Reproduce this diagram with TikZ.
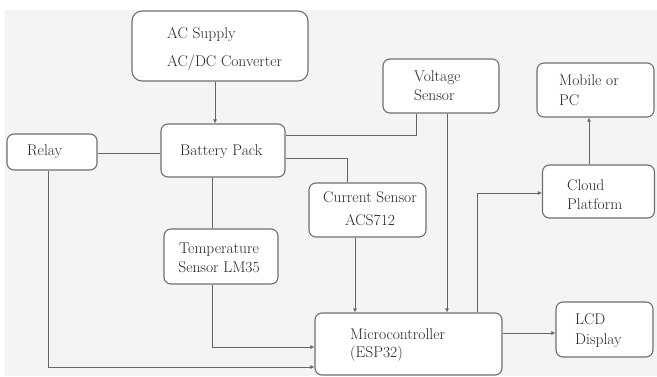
\documentclass[tikz,border=0pt]{standalone}
\usetikzlibrary{arrows.meta}
\definecolor{bgc}{HTML}{F4F4F4}
\definecolor{edge}{HTML}{707070}
\definecolor{wire}{HTML}{666666}
\definecolor{txt}{HTML}{262626}
\tikzset{
  box/.style={draw=edge, line width=1.1pt, fill=white, rounded corners=7pt, inner sep=0pt, minimum width=#1},
  lbl/.style={inner sep=0pt, align=left, anchor=west, text=txt},
  wr/.style={draw=wire, line width=0.9pt},
  arr/.style={wr, -{Latex[length=4pt,width=4pt]}},
}
\newcommand{\fs}[1]{\fontsize{15.5}{#1}\selectfont}
\begin{document}
\begin{tikzpicture}[x=1pt,y=-1pt]
\useasboundingbox (0,0) rectangle (657,376);
\fill[white] (0,0) rectangle (657,376);
\fill[bgc] (5,10) rectangle (657,376);

% boxes
\node[box=176pt, minimum height=70pt, rounded corners=10pt] (ac) at (220,46) {};
\node[box=124pt, minimum height=53pt] (bat) at (223,150.5) {};
\node[box=90pt, minimum height=36pt] (relay) at (52,152) {};
\node[box=116pt, minimum height=54pt] (volt) at (441,86) {};
\node[box=117pt, minimum height=54pt] (mob) at (595.5,90) {};
\node[box=112pt, minimum height=53pt] (cloud) at (598.5,191.5) {};
\node[box=117pt, minimum height=54pt] (cur) at (367.5,210) {};
\node[box=114pt, minimum height=55pt] (temp) at (221,256.5) {};
\node[box=187pt, minimum height=62pt] (mcu) at (408.5,344) {};
\node[box=97pt, minimum height=55pt] (lcd) at (604.5,329.5) {};

% labels
\node[lbl, font=\fs{28}] (acT) at (167,49) {AC Supply\\AC/DC Converter};
\node[lbl, font=\fs{19}] (batT) at (180,152) {Battery Pack};
\node[lbl, font=\fs{19}] (relT) at (27,152) {Relay};
\node[lbl, font=\fs{19}] (volT) at (414,86) {Voltage\\Sensor};
\node[lbl, font=\fs{20}] (mobT) at (559,90) {Mobile or\\PC};
\node[lbl, font=\fs{19}] (clT) at (567,195) {Cloud\\Platform};
\node[lbl, font=\fs{23}, align=center, anchor=center] (curT) at (370,209) {Current Sensor\\ACS712};
\node[lbl, font=\fs{19}, align=center, anchor=center] (tempT) at (219,258) {Temperature\\Sensor LM35};
\node[lbl, font=\fs{18}] (mcuT) at (350,345) {Microcontroller\\(ESP32)};
\node[lbl, font=\fs{20}] (lcdT) at (575,331) {LCD\\Display};

% connectors
\draw[arr] ([xshift=-5pt]ac.south) -- ([xshift=-5pt]ac.south |- bat.north);
\draw[wr] (relay.east |- 0,153) -- (bat.west |- 0,153);
\coordinate (rl) at (48,367);
\draw[arr] (relay.south -| rl) -- (rl) -- (rl -| mcu.west);
\coordinate (tx) at (212,347);
\draw[wr] (bat.south -| tx) -- (temp.north -| tx);
\draw[arr] (temp.south -| tx) -- (tx) -- (tx -| mcu.west);
\coordinate (vb) at (416,135);
\draw[wr] (bat.east |- vb) -- (vb) -- (vb |- volt.south);
\coordinate (cb) at (347,158);
\draw[wr] (bat.east |- cb) -- (cb) -- (cb |- cur.north);
\coordinate (cm) at (355,0);
\draw[arr] (cur.south -| cm) -- (mcu.north -| cm);
\coordinate (vm) at (447,0);
\draw[arr] (volt.south -| vm) -- (mcu.north -| vm);
\coordinate (mc) at (477,193);
\draw[arr] (mcu.north -| mc) -- (mc) -- (mc -| cloud.west);
\coordinate (cp) at (589,0);
\draw[arr] (cloud.north -| cp) -- (mob.south -| cp);
\coordinate (ml) at (0,333);
\draw[arr] (mcu.east |- ml) -- (lcd.west |- ml);
\end{tikzpicture}
\end{document}
